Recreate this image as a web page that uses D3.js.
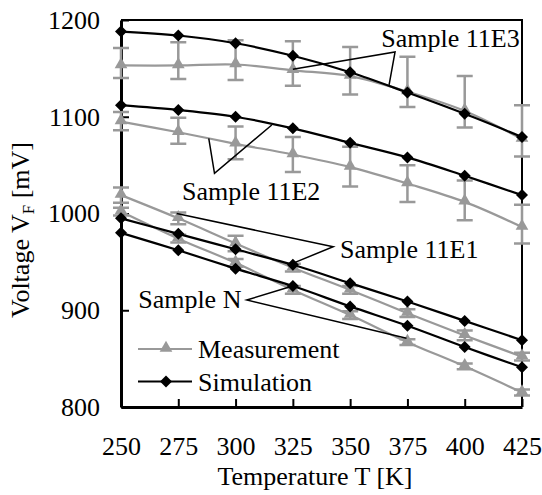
<!DOCTYPE html>
<html>
<head>
<meta charset="utf-8">
<script src="https://cdn.jsdelivr.net/npm/d3@7"></script>
<style>
  body { margin: 0; background: #fff; }
  svg text { font-family: "Liberation Serif", "Times New Roman", serif; fill: #000; }
</style>
</head>
<body>
<div id="chart"></div>
<script>
// Temperatures (x axis)
var temps = [250, 275, 300, 325, 350, 375, 400, 425];

// Sample 11E3
var meas11E3 = [1153, 1153, 1154, 1148, 1142, 1126, 1106, 1077];
var lo11E3   = [1140, 1139, 1138, 1132, 1123, 1110, 1089, 1059];
var hi11E3   = [1171, 1177, 1179, 1178, 1172, 1162, 1142, 1112];
var sim11E3  = [1188, 1184, 1176, 1163, 1146, 1125, 1103, 1079];

// Sample 11E2
var meas11E2 = [1095, 1084, 1072, 1061, 1048, 1031, 1012, 986];
var lo11E2   = [1086, 1072, 1056, 1043, 1028, 1012, 993, 969];
var hi11E2   = [1105, 1099, 1090, 1079, 1069, 1050, 1034, 1009];
var sim11E2  = [1112, 1107, 1100, 1088, 1073, 1058, 1039, 1019];

// Sample 11E1
var meas11E1 = [1019, 995, 969, 944, 921, 897, 874, 852];
var lo11E1   = [1011, 989, 961, 940, 917, 893, 869, 848];
var hi11E1   = [1027, 1001, 977, 948, 925, 901, 879, 856];
var sim11E1  = [995, 979, 963, 947, 928, 909, 889, 869];

// Sample N
var measN = [1002, 974, 949, 921, 895, 867, 842, 815];
var loN   = [998, 970, 945, 917, 891, 864, 839, 812];
var hiN   = [1006, 978, 953, 925, 899, 870, 845, 818];
var simN  = [980, 962, 943, 925, 904, 884, 862, 841];

var xTicks = [250, 275, 300, 325, 350, 375, 400, 425];
var yTicks = [800, 900, 1000, 1100, 1200];

var measSeries = [
  {v: meas11E3, lo: lo11E3, hi: hi11E3},
  {v: meas11E2, lo: lo11E2, hi: hi11E2},
  {v: meas11E1, lo: lo11E1, hi: hi11E1},
  {v: measN, lo: loN, hi: hiN}
];
var simSeries = [sim11E3, sim11E2, sim11E1, simN];

// Callouts, in data units: text anchor, apex, two targets
var callouts = [
  {label: "Sample 11E3", t: [424, 1172], anchor: "end",   apex: [369.6, 1167], to: [[367, 1133], [325, 1149]]},
  {label: "Sample 11E2", t: [276.6, 1014], anchor: "start", apex: [290.8, 1041.5], to: [[288.3, 1077.7], [315.8, 1091.5]]},
  {label: "Sample 11E1", t: [345.6, 953.7], anchor: "start", apex: [342.6, 965.6], to: [[274.3, 1000], [324.9, 948.5]]},
  {label: "Sample N",    t: [257.5, 902], anchor: "start", apex: [304.9, 910.6], to: [[324.9, 925], [374.6, 871]]}
];

var W = 542, H = 495;
var margin = {top: 20, right: 20, bottom: 88, left: 121};
var gray = "#999999";

var svg = d3.select("#chart").append("svg")
    .attr("width", W)
    .attr("height", H);

var x = d3.scaleLinear().domain([250, 425]).range([margin.left, W - margin.right]);
var y = d3.scaleLinear().domain([800, 1200]).range([H - margin.bottom, margin.top]);

// Frame: top and right
svg.append("path")
    .attr("d", "M" + x(250) + "," + y(1200) + "H" + x(425) + "V" + y(800))
    .attr("fill", "none").attr("stroke", "#000").attr("stroke-width", 2);

// Axes with inward ticks
var xAxis = svg.append("g")
    .attr("transform", "translate(0," + y(800) + ")")
    .call(d3.axisBottom(x).tickValues(xTicks).tickFormat(d3.format("d"))
      .tickSizeInner(-8).tickSizeOuter(0).tickPadding(30));
var yAxis = svg.append("g")
    .attr("transform", "translate(" + x(250) + ",0)")
    .call(d3.axisLeft(y).tickValues(yTicks).tickFormat(d3.format("d"))
      .tickSizeInner(-8).tickSizeOuter(0).tickPadding(21));

[xAxis, yAxis].forEach(function(g) {
  g.attr("font-family", null).attr("font-size", null);
  g.select(".domain").attr("stroke", "#000").attr("stroke-width", 3);
  g.selectAll(".tick line").attr("stroke", "#000").attr("stroke-width", 2);
  g.selectAll(".tick text").attr("font-size", 26);
});

// Axis titles
svg.append("text")
    .attr("x", 315).attr("y", 485)
    .attr("text-anchor", "middle")
    .attr("font-size", 26)
    .text("Temperature T [K]");

var yTitle = svg.append("text")
    .attr("transform", "translate(29,230) rotate(-90)")
    .attr("text-anchor", "middle")
    .attr("font-size", 26);
yTitle.append("tspan").text("Voltage V");
yTitle.append("tspan").attr("font-size", 17).attr("dy", 5).text("F");
yTitle.append("tspan").attr("dy", -5).text(" [mV]");

var line = d3.line()
    .x(function(d) { return x(d[0]); })
    .y(function(d) { return y(d[1]); })
    .curve(d3.curveCatmullRom.alpha(0.5));

var triangle = d3.symbol().type(d3.symbolTriangle).size(70);
var diamond = d3.symbol().type(d3.symbolSquare).size(72);

// Measurement: error bars, lines, triangles
measSeries.forEach(function(s) {
  var g = svg.append("g");
  temps.forEach(function(t, i) {
    var cx = x(t);
    g.append("path")
      .attr("d", "M" + cx + "," + y(s.lo[i]) + "V" + y(s.hi[i]) +
                 "M" + (cx - 8) + "," + y(s.lo[i]) + "H" + (cx + 8) +
                 "M" + (cx - 8) + "," + y(s.hi[i]) + "H" + (cx + 8))
      .attr("fill", "none").attr("stroke", gray).attr("stroke-width", 2.5);
  });
  g.append("path")
    .datum(temps.map(function(t, i) { return [t, s.v[i]]; }))
    .attr("d", line)
    .attr("fill", "none").attr("stroke", gray).attr("stroke-width", 2.2);
  g.selectAll(".tri")
    .data(temps.map(function(t, i) { return [t, s.v[i]]; }))
    .enter().append("path")
      .attr("d", triangle)
      .attr("transform", function(d) { return "translate(" + x(d[0]) + "," + (y(d[1]) - 1) + ")"; })
      .attr("fill", gray);
});

// Simulation: lines and diamonds
simSeries.forEach(function(vals) {
  var pts = temps.map(function(t, i) { return [t, vals[i]]; });
  svg.append("path")
    .datum(pts)
    .attr("d", line)
    .attr("fill", "none").attr("stroke", "#000").attr("stroke-width", 2.2);
  svg.selectAll(null)
    .data(pts)
    .enter().append("path")
      .attr("d", diamond)
      .attr("transform", function(d) { return "translate(" + x(d[0]) + "," + y(d[1]) + ") rotate(45)"; })
      .attr("fill", "#000");
});

// Callouts
callouts.forEach(function(c) {
  var ax = x(c.apex[0]), ay = y(c.apex[1]);
  svg.append("path")
    .attr("d", "M" + x(c.to[0][0]) + "," + y(c.to[0][1]) + "L" + ax + "," + ay +
               "L" + x(c.to[1][0]) + "," + y(c.to[1][1]))
    .attr("fill", "none").attr("stroke", "#000").attr("stroke-width", 1.5);
  svg.append("text")
    .attr("x", x(c.t[0])).attr("y", y(c.t[1]))
    .attr("text-anchor", c.anchor)
    .attr("font-size", 26)
    .text(c.label);
});

// Legend
var legend = svg.append("g").attr("transform", "translate(138,349)");
var items = [
  {name: "Measurement", color: gray, sym: triangle, rot: ""},
  {name: "Simulation", color: "#000", sym: diamond, rot: " rotate(45)"}
];
items.forEach(function(it, i) {
  var g = legend.append("g").attr("transform", "translate(0," + (i * 32.5) + ")");
  g.append("line").attr("x1", 0).attr("x2", 54).attr("y1", 0).attr("y2", 0)
    .attr("stroke", it.color).attr("stroke-width", 2.2);
  g.append("path").attr("d", it.sym)
    .attr("transform", "translate(28," + (i === 0 ? -1 : 0) + ")" + it.rot)
    .attr("fill", it.color);
  g.append("text").attr("x", 60).attr("y", 9).attr("font-size", 26).text(it.name);
});
</script>
</body>
</html>
